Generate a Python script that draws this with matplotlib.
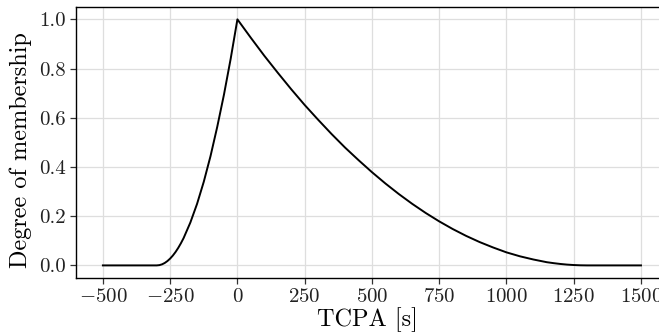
import matplotlib
matplotlib.use("Agg")
import matplotlib.pyplot as plt

plt.rcParams['font.family'] = 'serif'
plt.rcParams['font.serif'] = ['cmr10']
plt.rcParams['mathtext.fontset'] = 'cm'
plt.rcParams['axes.formatter.use_mathtext'] = True

# TCPA [s] and membership degree
tcpa = [-500, -300, -290, -280, -270, -260, -250, -240, -230, -220, -210, -200,
        -175, -150, -125, -100, -75, -50, -25, 0,
        50, 100, 150, 200, 250, 300, 350, 400, 450, 500, 550, 600, 650, 700, 750,
        800, 850, 900, 950, 1000, 1050, 1100, 1150, 1175, 1200, 1225, 1250, 1275, 1300, 1500]
membership = [0.0, 0.0, 0.0011, 0.0044, 0.01, 0.0178, 0.0278, 0.04, 0.0544, 0.0711, 0.09, 0.111,
              0.174, 0.25, 0.34, 0.444, 0.563, 0.694, 0.84, 1.0,
              0.925, 0.852, 0.783, 0.716, 0.652, 0.592, 0.534, 0.479, 0.428, 0.379, 0.333, 0.29, 0.25, 0.213, 0.179,
              0.148, 0.12, 0.095, 0.073, 0.053, 0.037, 0.024, 0.013, 0.0092, 0.0059, 0.0033, 0.0015, 0.0004, 0.0, 0.0]

xticks = [-500, -250, 0, 250, 500, 750, 1000, 1250, 1500]
yticks = [0.0, 0.2, 0.4, 0.6, 0.8, 1.0]

fig = plt.figure(figsize=(6.59, 3.36), dpi=100)
ax = fig.add_axes([0.1153, 0.1735, 0.8847, 0.8055])

ax.plot(tcpa, membership, color='black', lw=1.4)

ax.set_xlim(-600, 1567)
ax.set_ylim(-0.05, 1.05)
ax.set_xticks(xticks)
ax.set_yticks(yticks)
ax.set_yticklabels(['%.1f' % v for v in yticks])
ax.grid(True, color='#dedede', lw=0.9)
ax.set_axisbelow(True)
ax.spines['right'].set_visible(False)
for s in ['top', 'left', 'bottom']:
    ax.spines[s].set_linewidth(1.0)
ax.tick_params(labelsize=15, length=4, width=0.9, colors='#333333', labelcolor='#222222')

ax.set_xlabel('TCPA [s]', fontsize=17.5, labelpad=1)
ax.set_ylabel('Degree of membership', fontsize=17.5)
ax.yaxis.set_label_coords(-0.075, 0.47)

fig.savefig('out.png', dpi=100)
